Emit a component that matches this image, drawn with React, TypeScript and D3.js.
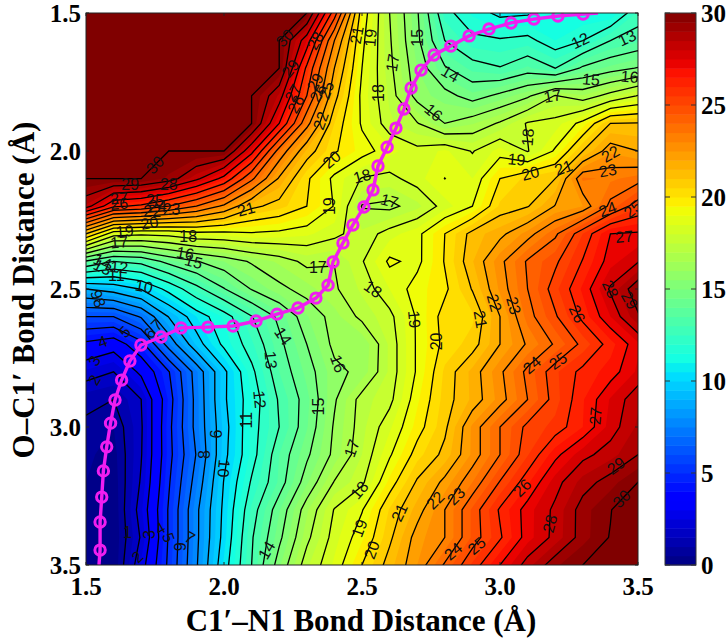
import React from 'react'
import * as d3 from 'd3'

const width = 728
const height = 640
const margin = { top: 13, left: 86, right: 90, bottom: 75 }

// energy on a 0.1 A grid, one array per O-C1' distance, columns are C1'-N1 1.5 ... 3.5
const r150 = [35, 35, 35, 35, 35, 35, 35, 35, 30, 25.5, 19.5, 17, 15.1, 12.3, 11.4, 10.8, 10.9, 11.2, 11.1, 11.05, 12.6]
const r160 = [35, 35, 35, 35, 35, 35, 35, 30, 27.5, 23, 19.2, 17.1, 15.2, 13, 12.2, 12.1, 12.25, 11.5, 12, 13, 13.4]
const r170 = [35, 35, 35, 35, 35, 35, 35, 30, 25.8, 22, 19, 17.2, 15.5, 14.1, 13.35, 13.05, 13.6, 13, 14.15, 14.65, 15.05]
const r180 = [35, 35, 35, 35, 35, 35, 30, 28.4, 25, 21.3, 18.8, 17.4, 15.7, 15.3, 14.65, 15.2, 15.85, 17.05, 16.55, 17.3, 18.05]
const r190 = [35, 35, 35, 35, 35, 35, 30, 27, 23.3, 20.5, 18.9, 17.6, 17.05, 16, 16.45, 17.1, 18.08, 18.25, 19.25, 21, 21.05]
const r200 = [33, 32, 31, 30, 30, 30, 27.3, 23.6, 21.4, 20.1, 19.3, 18.65, 18.2, 18.6, 17.95, 18.7, 17.95, 19.1, 21, 22.4, 22]
const r210 = [30, 30, 30, 29.4, 28.2, 26.7, 24.2, 21.9, 20.15, 18.8, 17.95, 17.8, 18.3, 19.01, 18.5, 20, 20.65, 21, 23.6, 23.4, 23.7]
const r220 = [28.4, 26.2, 25.8, 25, 24, 22.8, 21.2, 20.7, 20, 18.95, 16.95, 16.8, 17.35, 18.28, 19, 20.6, 20.95, 22.05, 22.5, 24.2, 25.4]
const r230 = [21, 18.4, 18.2, 18.3, 18.7, 18.7, 18.9, 18.8, 18.6, 18.2, 17.6, 18.3, 18.8, 20, 21.25, 21.8, 22.7, 23.85, 25.5, 27, 27.1]
const r240 = [13.9, 13, 13.3, 14.3, 14.95, 15.5, 16.1, 16.6, 17.2, 17.02, 17.94, 19.13, 18.8, 20.05, 21.46, 22.8, 24.1, 24.85, 26.05, 27.3, 27.95]
const r250 = [9, 9.4, 10.05, 11.3, 12.7, 13.95, 15.05, 15.8, 16.3, 16.9, 17.6, 18.5, 19.3, 19.85, 21.05, 22.6, 24, 25.35, 26.6, 28.1, 29.5]
const r260 = [6, 6, 7.1, 9.05, 10.5, 11.6, 12.95, 14.2, 15.45, 16.3, 17.2, 17.8, 19.1, 20.3, 20.4, 22, 23.7, 24.9, 26.2, 27.5, 28.9]
const r270 = [3.8, 3.4, 4.7, 7.4, 9.6, 11.2, 12.4, 13.8, 15, 16.2, 16.1, 17.6, 19.1, 20.2, 20.7, 22, 23.1, 24.1, 25.2, 26.3, 27.4]
const r280 = [2.4, 2, 3.2, 4.95, 7.4, 9.8, 11.8, 13.5, 14.65, 15.8, 16.2, 17.6, 19.1, 20.6, 21.65, 22.85, 24.2, 25.4, 26.2, 26.7, 27.6]
const r290 = [1.2, 1, 2, 4.6, 7.3, 9.85, 11.5, 13.1, 14.35, 15.9, 17.3, 17.8, 19.4, 20.7, 21.6, 22.7, 24, 25.3, 26.45, 27.55, 28.4]
const r300 = [0.85, 0.5, 1.9, 4.75, 7.3, 9.65, 11.65, 13, 14.45, 16.1, 17.35, 18.4, 19.7, 20.85, 22.6, 24, 25.2, 25.65, 26.5, 27.7, 28.6]
const r310 = [0.6, 0.3, 1.95, 4.7, 7.05, 9.75, 11.65, 13.5, 14.85, 16.2, 17.5, 18.9, 20.3, 21.2, 22.6, 24, 25.45, 26.8, 27.8, 28.3, 29]
const r320 = [0.5, 0.2, 2.1, 4.9, 7.4, 10.05, 12.1, 13.6, 15.4, 17.05, 17.85, 19.65, 21.1, 22.2, 23.5, 25.05, 26.4, 27.75, 28.7, 29.3, 30]
const r330 = [0.4, 0.1, 2.4, 5.1, 7.8, 10.2, 12.6, 14.45, 16.4, 18.05, 18.95, 20.55, 21.7, 23, 24.6, 26.1, 27.3, 28.15, 29.3, 29.95, 31]
const r340 = [0.3, 0.1, 2.1, 5.1, 7.8, 10.3, 12.9, 14.8, 16.8, 18.3, 19.4, 20.85, 22.3, 23, 24.6, 25.9, 27.3, 28.2, 29.3, 30.05, 31]
const r350 = [0.2, 0.1, 2.6, 5.2, 7.9, 10.6, 13, 15.4, 17.4, 18.6, 20, 21.3, 22.5, 24.1, 25.6, 27, 28.3, 29.4, 30, 31, 32]
const rows = [r150, r160, r170, r180, r190, r200, r210, r220, r230, r240, r250, r260, r270, r280, r290, r300, r310, r320, r330, r340, r350]

const lineLevels = d3.range(1, 31)
const fillLevels = d3.range(0, 60).map((d) => d / 2).concat(30)
const axisTicks = [1.5, 2.0, 2.5, 3.0, 3.5]
const barTicks = [0, 5, 10, 15, 20, 25, 30]

// minimum energy path
const pathX = [1.551, 1.551, 1.557, 1.563, 1.575, 1.589, 1.605, 1.629, 1.659, 1.699, 1.772, 1.844, 1.942, 2.033, 2.116, 2.192, 2.268, 2.333, 2.377, 2.395, 2.431, 2.467, 2.507, 2.54, 2.558, 2.591, 2.623, 2.652, 2.678, 2.714, 2.761, 2.822, 2.888, 2.96, 3.04, 3.123, 3.21, 3.301]
const pathY = [3.446, 3.344, 3.254, 3.159, 3.072, 2.986, 2.902, 2.83, 2.761, 2.703, 2.674, 2.641, 2.638, 2.634, 2.616, 2.591, 2.569, 2.533, 2.486, 2.402, 2.333, 2.268, 2.203, 2.141, 2.054, 1.986, 1.917, 1.848, 1.772, 1.707, 1.652, 1.62, 1.583, 1.558, 1.536, 1.522, 1.511, 1.504]
const pathStart = [1.547, 3.5]
const pathEnd = [3.355, 1.5]

// contour labels: level, x, y, rotation
const contourLabels: [string, number, number, number][] = [
  ['30', 2.22, 1.59, -45], ['28', 2.33, 1.6, -60], ['29', 2.24, 1.7, -50], ['29', 2.33, 1.75, -60],
  ['25', 2.37, 1.78, -70], ['26', 2.34, 1.79, -60], ['27', 2.25, 1.79, -60], ['26', 2.26, 1.83, -60],
  ['22', 2.35, 1.89, -70], ['20', 2.39, 2.03, -40], ['18', 2.5, 2.09, -15], ['19', 2.38, 2.2, -90],
  ['17', 2.34, 2.42, 0], ['21', 2.48, 1.58, -80], ['19', 2.53, 1.59, -85], ['30', 1.75, 2.05, -45],
  ['29', 1.66, 2.12, 0], ['28', 1.8, 2.12, 0], ['27', 1.62, 2.17, -5], ['26', 1.62, 2.19, -5],
  ['25', 1.75, 2.18, 0], ['24', 1.76, 2.2, 0], ['23', 1.81, 2.21, 0], ['22', 1.74, 2.22, 0],
  ['21', 2.08, 2.21, -15], ['20', 1.73, 2.26, -10], ['19', 1.64, 2.29, -5], ['18', 1.87, 2.31, 0],
  ['17', 1.62, 2.33, -5], ['16', 1.86, 2.37, 10], ['15', 1.89, 2.4, 15], ['14', 1.56, 2.4, 25],
  ['13', 1.56, 2.42, 25], ['12', 1.62, 2.42, 5], ['11', 1.61, 2.45, 0], ['10', 1.71, 2.49, 10],
  ['15', 2.7, 1.59, -90], ['17', 2.61, 1.68, -80], ['14', 2.82, 1.72, 30], ['18', 2.56, 1.79, -90],
  ['16', 2.76, 1.86, 40], ['12', 3.29, 1.6, -25], ['13', 3.46, 1.59, -25], ['15', 3.33, 1.74, 5],
  ['16', 3.47, 1.73, 5], ['17', 3.19, 1.8, -10], ['18', 3.1, 1.95, -85], ['19', 3.06, 2.03, 5],
  ['20', 3.11, 2.08, -15], ['21', 3.23, 2.06, -20], ['22', 3.4, 2.01, -30], ['23', 3.39, 2.07, -10],
  ['24', 3.39, 2.21, -20], ['25', 3.48, 2.21, -40], ['27', 3.45, 2.31, -5], ['17', 2.6, 2.18, 15],
  ['18', 2.54, 2.5, 35], ['19', 2.69, 2.61, 85], ['20', 2.77, 2.69, -90], ['21', 2.93, 2.61, 80],
  ['22', 2.98, 2.55, 75], ['23', 3.05, 2.56, 75], ['26', 3.28, 2.59, 65], ['28', 3.4, 2.5, 65],
  ['29', 3.47, 2.54, 60], ['24', 3.115, 2.775, -40], ['25', 3.21, 2.76, -35], ['27', 3.345, 2.96, -85],
  ['29', 3.42, 3.14, -35], ['30', 3.44, 3.26, -45], ['26', 3.08, 3.22, -45], ['22', 2.765, 3.265, -45],
  ['23', 2.84, 3.25, -45], ['21', 2.635, 3.31, -65], ['28', 3.18, 3.35, -75], ['24', 2.83, 3.45, -40],
  ['25', 2.915, 3.43, -40], ['20', 2.535, 3.445, -70], ['9', 1.54, 2.52, 70], ['8', 1.55, 2.55, 70],
  ['5', 1.64, 2.655, -45], ['6', 1.73, 2.66, -55], ['7', 1.756, 2.63, -45], ['4', 1.56, 2.69, -20],
  ['3', 1.53, 2.76, -60], ['2', 1.53, 2.83, -60], ['14', 2.215, 2.67, 55], ['13', 2.17, 2.757, 85],
  ['12', 2.13, 2.9, 85], ['11', 2.08, 2.975, -90], ['9', 1.97, 3.025, 90], ['8', 1.93, 3.1, -90],
  ['10', 2, 3.15, 95], ['15', 2.34, 2.926, -90], ['16', 2.414, 2.77, 70], ['17', 2.462, 3.077, -70],
  ['18', 2.49, 3.228, -50], ['19', 2.49, 3.367, -70], ['14', 2.154, 3.446, -60], ['1', 1.65, 3.38, 0],
  ['2', 1.686, 3.47, -45], ['3', 1.73, 3.39, -90], ['4', 1.768, 3.367, -30], ['5', 1.8, 3.4, 70],
  ['6', 1.838, 3.434, 90], ['7', 1.877, 3.4, 30],
]

// matplotlib style jet
const jetR = d3.scaleLinear([0, 0.35, 0.66, 0.89, 1], [0, 0, 1, 1, 0.5]).clamp(true)
const jetG = d3.scaleLinear([0, 0.125, 0.375, 0.64, 0.91, 1], [0, 0, 1, 1, 0, 0]).clamp(true)
const jetB = d3.scaleLinear([0, 0.11, 0.34, 0.65, 1], [0.5, 1, 1, 0, 0]).clamp(true)
const jet = (t: number) =>
  d3.rgb(jetR(t) * 255, jetG(t) * 255, jetB(t) * 255).formatHex()
const levelColor = (l: number) => jet(Math.min(1, (l + 0.25) / 30))

export default function App() {
  const plotSize = width - margin.left - margin.right
  const x = d3.scaleLinear([1.5, 3.5], [margin.left, margin.left + plotSize])
  const y = d3.scaleLinear([1.5, 3.5], [margin.top, margin.top + plotSize])
  const bar = d3.scaleLinear([0, 30], [margin.top + plotSize, margin.top])
  const barX = 665
  const barW = 31

  const values = rows.flat()
  const fills = d3.contours().size([21, 21]).thresholds(fillLevels)(values)
  const lines = d3.contours().size([21, 21]).thresholds(lineLevels)(values)

  // d3 puts grid value i at i + 0.5
  const project = d3.geoTransform({
    point(cx, cy) {
      this.stream.point(x(1.5 + (cx - 0.5) * 0.1), y(1.5 + (cy - 0.5) * 0.1))
    },
  })
  const geo = d3.geoPath(project)

  const line = d3.line()
  const lineD = line([
    [x(pathStart[0]), y(pathStart[1])],
    ...pathX.map((d, i) => [x(d), y(pathY[i])] as [number, number]),
    [x(pathEnd[0]), y(pathEnd[1])],
  ])

  const serif = { fontFamily: '"Liberation Serif", serif', fontWeight: 'bold' as const }

  return (
    <svg width={width} height={height} style={{ position: 'absolute', left: 0, top: 0, background: '#fff' }}>
      <defs>
        <clipPath id="plot">
          <rect x={margin.left} y={margin.top} width={plotSize} height={plotSize} />
        </clipPath>
      </defs>

      <g clipPath="url(#plot)">
        {fills.map((c) => (
          <path key={c.value} d={geo(c) ?? ''} fill={levelColor(c.value)} stroke="none" />
        ))}
        {lines.map((c) => (
          <path key={c.value} d={geo(c) ?? ''} fill="none" stroke="#000" strokeWidth={1.3} strokeLinejoin="miter" />
        ))}
        {contourLabels.map(([t, lx, ly, a], i) => (
          <text
            key={i}
            transform={`translate(${x(lx)},${y(ly)}) rotate(${a})`}
            textAnchor="middle"
            dy="0.36em"
            fontFamily='"Liberation Sans", sans-serif'
            fontSize={16}
            fill="#111"
          >
            {t}
          </text>
        ))}
        <path d={lineD ?? ''} fill="none" stroke="#f01ef0" strokeWidth={3.4} />
        {pathX.map((d, i) => (
          <circle key={i} cx={x(d)} cy={y(pathY[i])} r={5.2} fill="none" stroke="#f01ef0" strokeWidth={3} />
        ))}
      </g>

      <rect x={margin.left} y={margin.top} width={plotSize} height={plotSize} fill="none" stroke="#222" strokeWidth={1} />

      {axisTicks.map((t) => (
        <g key={t}>
          <line x1={x(t)} x2={x(t)} y1={margin.top} y2={margin.top + 3} stroke="#222" />
          <line x1={x(t)} x2={x(t)} y1={margin.top + plotSize} y2={margin.top + plotSize - 3} stroke="#222" />
          <line x1={margin.left} x2={margin.left + 3} y1={y(t)} y2={y(t)} stroke="#222" />
          <line x1={margin.left + plotSize} x2={margin.left + plotSize - 3} y1={y(t)} y2={y(t)} stroke="#222" />
          <text x={x(t)} y={595} textAnchor="middle" fontSize={25} {...serif}>
            {t.toFixed(1)}
          </text>
          <text x={81} y={y(t) + 9} textAnchor="end" fontSize={25} {...serif}>
            {t.toFixed(1)}
          </text>
        </g>
      ))}

      <text x={361} y={631} textAnchor="middle" fontSize={31} {...serif}>
        C1′–N1 Bond Distance (Å)
      </text>
      <text transform="translate(34,290) rotate(-90)" textAnchor="middle" fontSize={31} {...serif}>
        O–C1′ Bond Distance (Å)
      </text>

      {fillLevels.slice(0, -1).map((l, i) => (
        <rect
          key={l}
          x={barX}
          y={bar(fillLevels[i + 1])}
          width={barW}
          height={bar(l) - bar(fillLevels[i + 1]) + 0.5}
          fill={levelColor(l)}
        />
      ))}
      <rect x={barX} y={margin.top} width={barW} height={plotSize} fill="none" stroke="#333" strokeWidth={1} />
      {barTicks.map((t) => (
        <g key={t}>
          <line x1={barX} x2={barX + 5} y1={bar(t)} y2={bar(t)} stroke="#333" />
          <line x1={barX + barW - 5} x2={barX + barW} y1={bar(t)} y2={bar(t)} stroke="#333" />
          <text x={701} y={bar(t) + 9} fontSize={25} {...serif}>
            {t}
          </text>
        </g>
      ))}
    </svg>
  )
}
